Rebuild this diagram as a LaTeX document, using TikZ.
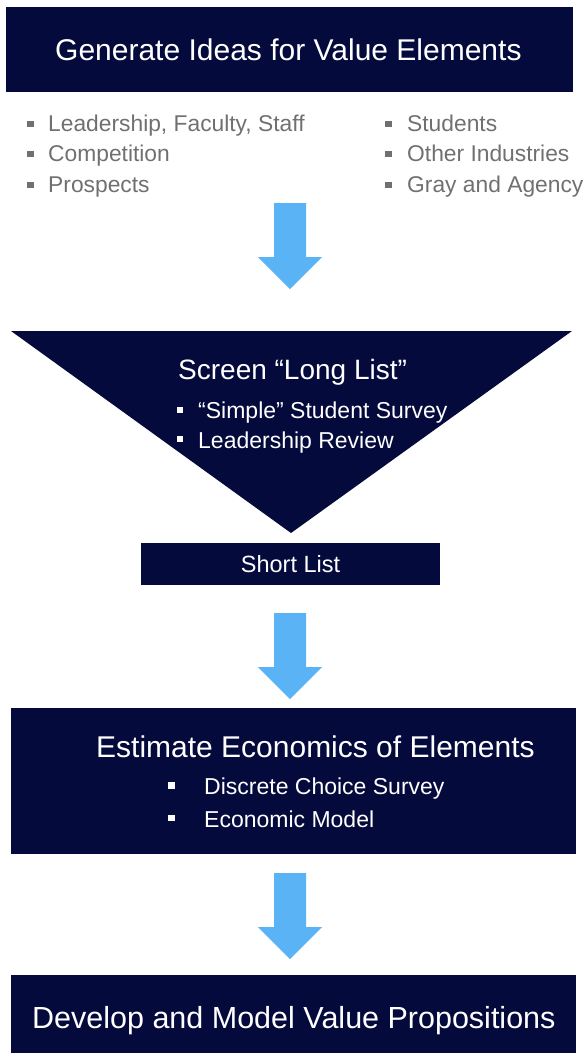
\documentclass[tikz,border=0pt]{standalone}
\usepackage{fontspec}
\setmainfont{Liberation Sans}
\definecolor{navy}{HTML}{050A3C}
\definecolor{arrowblue}{HTML}{5AB3F5}
\definecolor{listgrey}{HTML}{707070}
\begin{document}
\begin{tikzpicture}[x=1pt,y=-1pt,
  panel/.style={fill=navy,draw=none},
  title/.style={anchor=base west,inner sep=0,text=white,font=\fontsize{30}{34}\selectfont},
  greyitem/.style={anchor=base west,inner sep=0,text=listgrey,font=\fontsize{22.8}{26}\selectfont},
  whiteitem/.style={anchor=base west,inner sep=0,text=white,font=\fontsize{23}{26}\selectfont},
  greydot/.style={fill=listgrey,draw=none,minimum size=6.5pt,inner sep=0},
  whitedot/.style={fill=white,draw=none,minimum size=6.5pt,inner sep=0},
  downarrow/.pic={\fill[arrowblue] (-16,0) -- (16,0) -- (16,54) -- (32,54)
      -- (0,86) -- (-32,54) -- (-16,54) -- cycle;}]
\useasboundingbox (0,0) rectangle (582,1053);

% stage 1: idea generation
\fill[panel] (6,7) rectangle (573,92);
\node[title] (gen) at (55,60) {Generate Ideas for Value Elements};

\node[greydot] (b1) at (30.5,124) {};
\node[greyitem] (l1) at (48,131) {Leadership, Faculty, Staff};
\node[greydot] (b2) at (30.5,154) {};
\node[greyitem] (l2) at (48,161) {Competition};
\node[greydot] (b3) at (30.5,185) {};
\node[greyitem] (l3) at (48,192) {Prospects};
\node[greydot] (b4) at (388.5,124) {};
\node[greyitem] (r1) at (407,131) {Students};
\node[greydot] (b5) at (388.5,154) {};
\node[greyitem] (r2) at (407,161) {Other Industries};
\node[greydot] (b6) at (388.5,185) {};
\node[greyitem] (r3) at (407,192) {Gray and Agency};

\pic at (290,203) {downarrow};

% stage 2: screening funnel
\fill[panel] (11,331) -- (572,331) -- (291,533) -- cycle;
\node[anchor=base west,inner sep=0,text=white,font=\fontsize{28}{32}\selectfont]
  (screen) at (178,379) {Screen “Long List”};
\node[whitedot] (s1) at (180,410) {};
\node[whiteitem] (sv) at (198,418) {“Simple” Student Survey};
\node[whitedot] (s2) at (180,439) {};
\node[whiteitem] (lr) at (198,448) {Leadership Review};

\fill[panel] (140.5,543) rectangle (440,585);
\node[anchor=base,inner sep=0,text=white,font=\fontsize{23.5}{28}\selectfont]
  (short) at (290.5,572) {Short List};

\pic at (290,613) {downarrow};

% stage 3: economics
\fill[panel] (11,708) rectangle (576,854);
\node[title] (est) at (96,757) {Estimate Economics of Elements};
\node[whitedot] (e1) at (171.5,785.5) {};
\node[whiteitem] (dc) at (204,794) {Discrete Choice Survey};
\node[whitedot] (e2) at (171.5,818) {};
\node[whiteitem] (em) at (204,827) {Economic Model};

\pic at (290,873) {downarrow};

% stage 4: value propositions
\fill[panel] (11,975) rectangle (576,1053);
\node[title,font=\fontsize{30.5}{34}\selectfont] (dev) at (32,1028) {Develop and Model Value Propositions};
\end{tikzpicture}
\end{document}
